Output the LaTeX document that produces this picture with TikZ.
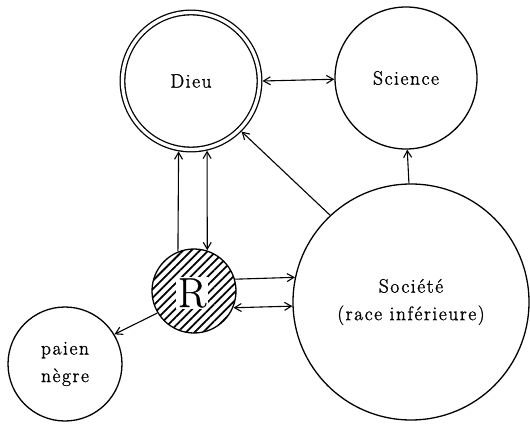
\documentclass[tikz,border=0pt]{standalone}
\usepackage{fontspec}
\setmainfont{Latin Modern Roman}[LetterSpace=8,FakeBold=1.3]
\newfontfamily\bigR{Latin Modern Roman}[FakeBold=0.6]
\usetikzlibrary{arrows.meta,patterns.meta}
\tikzset{
  circ/.style={circle,draw,line width=1.3pt,inner sep=0pt,align=center,
    font=\fontsize{19.5}{27.5}\selectfont},
  tip/.style={line width=1.1pt,-{Straight Barb[length=2.4mm,width=2.8mm,line width=1.1pt]}},
  tips/.style={line width=1.1pt,{Straight Barb[length=2.4mm,width=2.8mm,line width=1.1pt]}-{Straight Barb[length=2.4mm,width=2.8mm,line width=1.1pt]}},
}
\begin{document}
\begin{tikzpicture}[x=1pt,y=-1pt]
\useasboundingbox (0,0) rectangle (530,425);
\node[circ,minimum size=137pt,double,double distance=3.3pt,outer sep=3pt] (dieu) at (191,81) {Dieu};
\node[circ,minimum size=142pt] (sci) at (406,78) {Science};
\node[circ,minimum size=236pt] (soc) at (411,302) {Société\\(race inférieure)};
\node[circ,minimum size=114pt] (paien) at (65,364) {paien\\nègre};
\node[circ,minimum size=84pt,pattern={Lines[angle=45,distance=6pt,line width=1.8pt]}] (r) at (194,291) {};
\node[fill=white,inner sep=1.5pt,font=\bigR\fontsize{42}{42}\selectfont] (rl) at (192,293) {R};
% connectors
\draw[tips] (dieu.0.8) -- (sci.181.6);
\draw[tip] (soc.91.9) -- (sci.-89.2);
\draw[tip] (soc.133) -- (dieu.-45);
\draw[tip] (r.112) -- (dieu.-100.5);
\draw[tips] (dieu.-77.1) -- (r.72.2);
\draw[tip] (r.16.4) -- (soc.168.8);
\draw[tips] (r.-23.5) -- (soc.182.9);
\draw[tip] (r.211) -- (paien.31);
\end{tikzpicture}
\end{document}
